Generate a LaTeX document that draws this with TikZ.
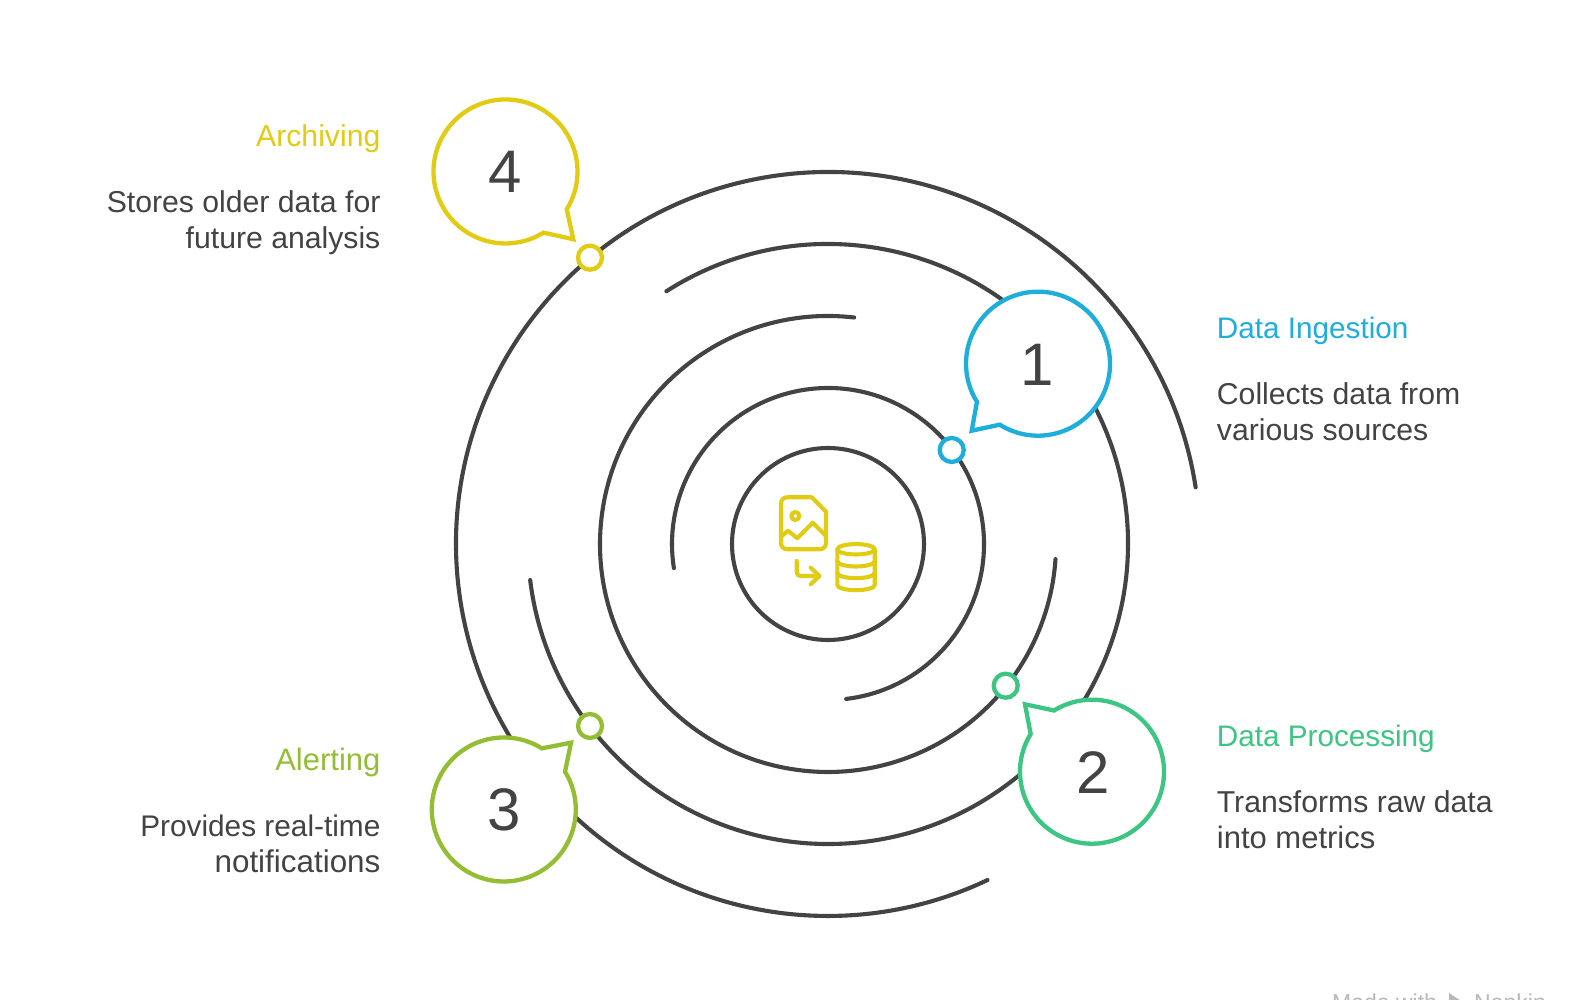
\documentclass[tikz,border=0pt]{standalone}
\usepackage{fontspec}
\setmainfont{Liberation Sans}
\definecolor{ink}{HTML}{434343}
\definecolor{cblue}{HTML}{1EAEDB}
\definecolor{cgreen}{HTML}{3CC583}
\definecolor{clime}{HTML}{93BE34}
\definecolor{cyellow}{HTML}{E2CC13}
\tikzset{
  ring/.style={draw=ink,line width=4.1pt,line cap=round},
  bubble/.style={draw=#1,fill=white,line width=4.3pt,line join=miter,miter limit=10},
  dot/.style={circle,draw=#1,fill=white,line width=4.3pt,minimum size=24pt,inner sep=0pt},
  digit/.style={text=ink,font=\fontsize{60}{60}\selectfont,anchor=base,inner sep=0pt},
  heading/.style={text=#1,font=\fontsize{29.7}{36}\selectfont,inner sep=0pt},
  bodytext/.style={text=ink,font=\fontsize{30.2}{36}\selectfont,inner sep=0pt},
  icon/.style={draw=cyellow,line width=4.1pt,line cap=round,line join=round},
  creditline/.style={text=black!28,font=\fontsize{23}{23}\selectfont,anchor=base west,inner sep=0pt},
}
\begin{document}
\begin{tikzpicture}[x=1pt,y=1pt]
\useasboundingbox (0,0) rectangle (1596,1000);
\fill[white] (0,0) rectangle (1596,1000);
\coordinate (o) at (828,456);
% rings
\draw[ring] (o) circle[radius=96pt];
\draw[ring] ([shift={(-83.3:156)}]o) arc[start angle=-83.3,end angle=188.9,radius=156pt];
\draw[ring] ([shift={(83.4:228)}]o) arc[start angle=83.4,end angle=356.2,radius=228pt];
\draw[ring] ([shift={(122.6:300)}]o) arc[start angle=122.6,end angle=-173.1,radius=300pt];
\draw[ring] ([shift={(8.76:372)}]o) arc[start angle=8.76,end angle=295.4,radius=372pt];
% bubbles
\coordinate (b1) at (1038,636.3);
\coordinate (b2) at (1092,228.3);
\coordinate (b3) at (503.8,190.5);
\coordinate (b4) at (505.5,828.5);
\draw[bubble=cblue] ([shift={(237.9:72)}]b1) arc[start angle=237.9,end angle=572,radius=72pt] -- (971.7,569.3) -- cycle;
\draw[bubble=cgreen] ([shift={(148.4:72)}]b2) arc[start angle=148.4,end angle=481.8,radius=72pt] -- (1025,295.7) -- cycle;
\draw[bubble=clime] ([shift={(58.1:72)}]b3) arc[start angle=58.1,end angle=391.7,radius=72pt] -- (571,257.3) -- cycle;
\draw[bubble=cyellow] ([shift={(-31.7:72)}]b4) arc[start angle=-31.7,end angle=301.9,radius=72pt] -- (573.3,760.7) -- cycle;
% dots
\node[dot=cblue] (d1) at (951.7,550) {};
\node[dot=cgreen] (d2) at (1005.7,314.3) {};
\node[dot=clime] (d3) at (590,274) {};
\node[dot=cyellow] (d4) at (590,742.3) {};
% digits
\node[digit] (n1) at (1037,614.3) {1};
\node[digit] (n2) at (1093,206.7) {2};
\node[digit] (n3) at (504.5,169) {3};
\node[digit] (n4) at (505.5,807.3) {4};
% right labels
\node[heading=cblue,anchor=base west] (t1) at (1216.7,661.7) {Data Ingestion};
\node[bodytext,anchor=base west] (s1a) at (1216.7,595.7) {Collects data from};
\node[bodytext,anchor=base west] (s1b) at (1216.7,559.7) {various sources};
\node[heading=cgreen,anchor=base west] (t2) at (1216.7,253) {Data Processing};
\node[bodytext,anchor=base west] (s2a) at (1216.7,187) {Transforms raw data};
\node[bodytext,anchor=base west] (s2b) at (1216.7,151) {\fontsize{31}{36}\selectfont into metrics};
% left labels
\node[heading=clime,anchor=base east] (t3) at (380.6,229) {\fontsize{31}{36}\selectfont Alerting};
\node[bodytext,anchor=base east] (s3a) at (380.6,163) {\fontsize{29.8}{36}\selectfont Provides real-time};
\node[bodytext,anchor=base east] (s3b) at (380.6,127.3) {\fontsize{31.4}{36}\selectfont notifications};
\node[heading=cyellow,anchor=base east] (t4) at (380.6,853) {\fontsize{30.2}{36}\selectfont Archiving};
\node[bodytext,anchor=base east] (s4a) at (380.6,787) {Stores older data for};
\node[bodytext,anchor=base east] (s4b) at (380.6,751.3) {future analysis};
% centre icon
\draw[icon] (787,502.7) -- (811.7,502.7) -- (826,488.3) -- (826,456.7) arc[start angle=0,end angle=-90,radius=6pt] -- (787,450.7) arc[start angle=270,end angle=180,radius=6pt] -- (781,496.7) arc[start angle=180,end angle=90,radius=6pt] -- cycle;
\draw[icon] (795.3,484) circle[radius=4pt];
\draw[icon] (781,463.3) -- (788,469.3) -- (797.3,461.7) -- (812.7,477.3) -- (826,464);
\draw[icon] (796.7,439) -- (796.7,428.3) .. controls (796.7,425.5) and (798,424) .. (800.5,424) -- (819.3,424);
\draw[icon] (810.7,432.3) -- (819.3,424) -- (810.7,415.7);
\draw[icon] (856,450.7) ellipse[x radius=18.7pt,y radius=5.2pt];
\draw[icon] (837.3,450.7) -- (837.3,415) arc[start angle=180,end angle=360,x radius=18.7pt,y radius=5.2pt] -- (874.7,450.7);
\draw[icon] (837.3,438.7) arc[start angle=180,end angle=360,x radius=18.7pt,y radius=5.2pt];
\draw[icon] (837.3,427) arc[start angle=180,end angle=360,x radius=18.7pt,y radius=5.2pt];
% cut-off credit at the bottom edge
\node[creditline] (credit1) at (1332,-11) {Made with};
\node[creditline] (credit2) at (1474,-11) {Napkin};
\fill[black!28] (1449,7) -- (1449,-10) -- (1464,-3) -- cycle;
\end{tikzpicture}
\end{document}
